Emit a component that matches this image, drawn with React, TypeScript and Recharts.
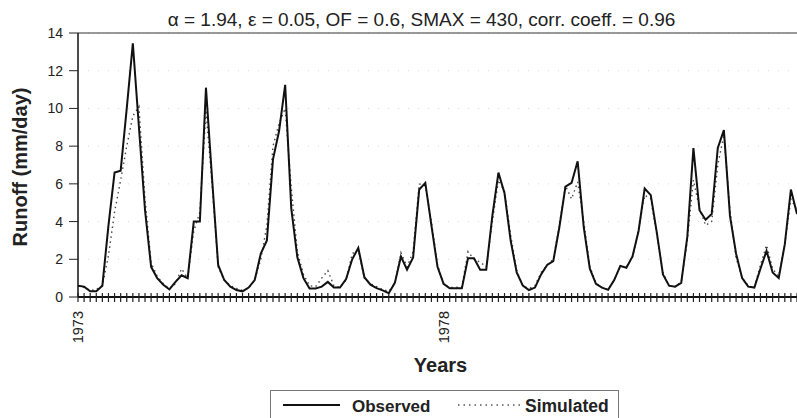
import React from "react";
import { LineChart, Line, XAxis, YAxis, CartesianGrid, ReferenceLine } from "recharts";

// Monthly runoff (mm/day), starting January 1973
const observed = [
  0.6, 0.55, 0.3, 0.3, 0.6, 3.8, 6.6, 6.7, 10.0, 13.45, 9.0, 4.6,
  1.6, 1.0, 0.65, 0.4, 0.8, 1.15, 1.0, 4.0, 4.0, 11.1, 6.3, 1.7,
  0.9, 0.55, 0.37, 0.3, 0.5, 0.9, 2.3, 3.0, 7.3, 8.8, 11.25, 4.7,
  2.1, 1.0, 0.45, 0.45, 0.55, 0.8, 0.5, 0.5, 0.95, 2.0, 2.6, 1.05,
  0.65, 0.47, 0.35, 0.2, 0.75, 2.15, 1.45, 2.1, 5.7, 6.05, 3.8, 1.6,
  0.7, 0.46, 0.46, 0.46, 2.05, 2.05, 1.45, 1.45, 4.3, 6.6, 5.5, 3.0,
  1.3, 0.6, 0.37, 0.5, 1.2, 1.7, 1.9, 3.7, 5.85, 6.05, 7.2, 3.7,
  1.5, 0.7, 0.5, 0.38, 0.9, 1.65, 1.55, 2.15, 3.5, 5.75, 5.4, 3.4,
  1.2, 0.6, 0.55, 0.75, 3.2, 7.9, 4.6, 4.1, 4.4, 7.9, 8.85, 4.3,
  2.3, 1.0, 0.55, 0.5, 1.5, 2.45, 1.3, 1.0, 2.8, 5.7, 4.4,
];

const simulated = [
  0.6, 0.5, 0.35, 0.4, 0.6, 2.2, 4.5, 6.2, 8.0, 9.6, 10.1, 5.2,
  1.8, 1.1, 0.7, 0.45, 0.7, 1.5, 1.0, 3.5, 4.5, 9.9, 6.0, 1.6,
  0.9, 0.6, 0.45, 0.35, 0.45, 0.9, 2.0, 3.8, 8.0, 9.2, 10.0, 5.8,
  2.4, 1.2, 0.6, 0.55, 1.0, 1.4, 0.6, 0.5, 0.9, 2.3, 2.5, 1.0,
  0.7, 0.55, 0.4, 0.3, 0.7, 2.35, 1.6, 2.4, 6.0, 5.9, 4.0, 1.7,
  0.7, 0.5, 0.5, 0.55, 2.4, 2.0, 1.85, 1.6, 4.0, 6.2, 5.6, 3.3,
  1.4, 0.6, 0.45, 0.6, 1.3, 1.7, 2.0, 3.8, 5.9, 5.2, 6.1, 4.0,
  1.6, 0.75, 0.5, 0.4, 0.9, 1.6, 1.6, 2.1, 3.6, 5.4, 5.2, 3.3,
  1.3, 0.6, 0.55, 0.8, 3.0, 6.2, 4.7, 3.8, 4.0, 7.0, 8.6, 4.6,
  2.1, 1.0, 0.6, 0.5, 1.7, 2.75, 1.5, 1.1, 2.8, 5.2, 4.6,
];

const yearLabels: Record<number, string> = { 0: "1973", 60: "1978" };
const yTicks = [0, 2, 4, 6, 8, 10, 12, 14];
const titleText = "\u03b1 = 1.94, \u03b5 = 0.05, OF = 0.6, SMAX = 430, corr. coeff. = 0.96";
const yLabel = "Runoff (mm/day)";
const xLabel = "Years";
const legendNames = ["Observed", "Simulated"];

const data = observed.map((v, i) => ({ m: i, observed: v, simulated: simulated[i] }));
const monthTicks = data.map((d) => d.m);
const lastMonth = monthTicks[monthTicks.length - 1];

const FONT = "'Liberation Sans', Arial, sans-serif";

const MonthTick = (props: any) => {
  const { x, y, payload } = props;
  const label = yearLabels[payload.value];
  return (
    <g>
      <line x1={x} x2={x} y1={y - 4} y2={y + 5} stroke="#222" strokeWidth={1.2} />
      {label ? (
        <text
          x={x}
          y={y + 14}
          transform={`rotate(-90, ${x}, ${y + 14})`}
          textAnchor="end"
          dominantBaseline="central"
          fontSize={14.5}
          fontFamily={FONT}
          fill="#222"
        >
          {label}
        </text>
      ) : null}
    </g>
  );
};

export default function App() {
  return (
    <div style={{ position: "absolute", left: 0, top: 0, width: 797, height: 418, background: "#fff" }}>
      <LineChart width={797} height={418} data={data} margin={{ top: 33, right: 0, bottom: 0, left: 0 }}>
        <CartesianGrid horizontal vertical={false} stroke="#aaa" strokeDasharray="1 9" strokeOpacity={0.45} />
        <XAxis
          dataKey="m"
          type="number"
          domain={[0, lastMonth]}
          ticks={monthTicks}
          interval={0}
          height={121}
          tickSize={0}
          tickMargin={0}
          tickLine={false}
          tick={<MonthTick />}
          axisLine={{ stroke: "#111", strokeWidth: 2 }}
        />
        <YAxis
          type="number"
          domain={[0, 14]}
          ticks={yTicks}
          width={78}
          tickSize={9}
          tickMargin={6}
          tickLine={{ stroke: "#222" }}
          axisLine={{ stroke: "#111", strokeWidth: 1.5 }}
          tick={{ fontSize: 14, fontFamily: FONT, fill: "#222" }}
        />
        <ReferenceLine y={14} stroke="#333" strokeWidth={1} />
        <Line
          type="linear"
          dataKey="simulated"
          stroke="#444"
          strokeWidth={1.4}
          strokeDasharray="1.5 3.5"
          dot={false}
          isAnimationActive={false}
        />
        <Line
          type="linear"
          dataKey="observed"
          stroke="#111"
          strokeWidth={2}
          dot={false}
          isAnimationActive={false}
        />
      </LineChart>
      <svg
        width={797}
        height={418}
        style={{ position: "absolute", left: 0, top: 0, pointerEvents: "none" }}
      >
        <text x={421.5} y={26} textAnchor="middle" fontSize={19} fontFamily={FONT} fill="#222">
          {titleText}
        </text>
        <text
          x={27}
          y={167}
          transform="rotate(-90, 27, 167)"
          textAnchor="middle"
          fontSize={20}
          fontWeight="bold"
          fontFamily={FONT}
          fill="#222"
        >
          {yLabel}
        </text>
        <text x={440.5} y={371.5} textAnchor="middle" fontSize={20} fontWeight="bold" fontFamily={FONT} fill="#222">
          {xLabel}
        </text>
        <rect x={270.5} y={390.5} width={348} height={40} fill="none" stroke="#777" strokeWidth={1} />
        <line x1={283} x2={340} y1={405} y2={405} stroke="#111" strokeWidth={2} />
        <text x={352} y={411.5} fontSize={17} fontWeight="bold" fontFamily={FONT} fill="#222">
          {legendNames[0]}
        </text>
        <line x1={458} x2={521} y1={405} y2={405} stroke="#555" strokeWidth={1.4} strokeDasharray="1.5 4" />
        <text x={525} y={411.5} fontSize={17.5} fontWeight="bold" fontFamily={FONT} fill="#222">
          {legendNames[1]}
        </text>
      </svg>
    </div>
  );
}
